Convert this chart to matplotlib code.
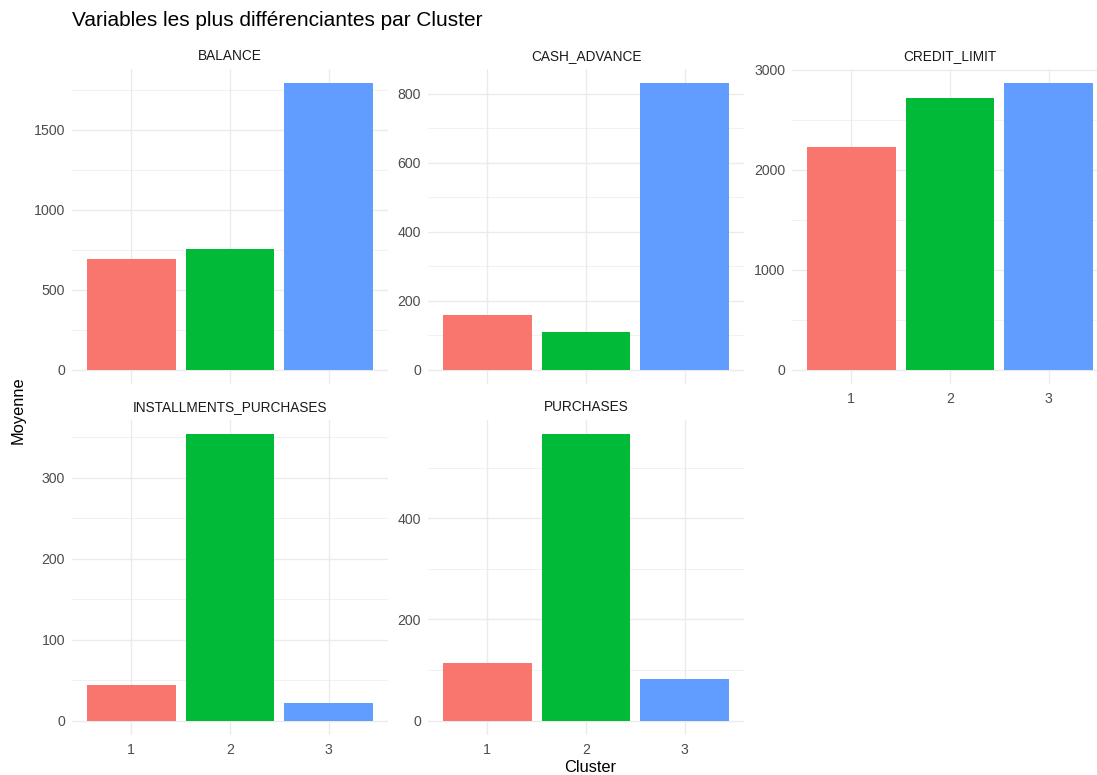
import matplotlib
matplotlib.use("Agg")
import matplotlib.pyplot as plt
from matplotlib.ticker import MultipleLocator
import numpy as np

plt.rcParams['font.family'] = ['Liberation Sans', 'DejaVu Sans']

# ---- data ----
clusters = ["1", "2", "3"]
variables = ["BALANCE", "CASH_ADVANCE", "CREDIT_LIMIT", "INSTALLMENTS_PURCHASES", "PURCHASES"]
balance = [690, 754, 1790]
cash_advance = [159, 110, 830]
credit_limit = [2226, 2723, 2866]
installments_purchases = [44.4, 353.7, 21.8]
purchases = [114.4, 566, 82.2]
values = [balance, cash_advance, credit_limit, installments_purchases, purchases]
tick_steps = [500, 200, 1000, 100, 200]

colors = ["#F8766D", "#00BA38", "#619CFF"]
title = "Variables les plus différenciantes par Cluster"

W, H = 1097, 775
fig = plt.figure(figsize=(W / 100, H / 100), dpi=100)

col_left = [72, 428, 792]
row_top = [69, 420]
pw, ph = 316, 315

grid_c = "#EBEBEB"
for i, (var, vals, step) in enumerate(zip(variables, values, tick_steps)):
    r, c = divmod(i, 3)
    left = col_left[c] / W
    bottom = 1 - (row_top[r] + ph) / H
    ax = fig.add_axes([left, bottom, pw / W, ph / H])
    x = np.arange(1, len(clusters) + 1)
    ax.bar(x, vals, width=0.9, color=colors, zorder=3)
    m = max(vals)
    ax.set_ylim(-0.05 * m, 1.05 * m)
    ax.set_xlim(0.4, 3.6)
    ax.yaxis.set_major_locator(MultipleLocator(step))
    ax.yaxis.set_minor_locator(MultipleLocator(step / 2))
    ax.set_xticks(x)
    show_x = (r == 1) or (c == 2)
    ax.set_xticklabels(clusters if show_x else [])
    ax.grid(which="major", color=grid_c, linewidth=1.0, zorder=0)
    ax.grid(which="minor", axis="y", color=grid_c, linewidth=0.5, zorder=0)
    for s in ax.spines.values():
        s.set_visible(False)
    ax.tick_params(which="both", length=0)
    ax.tick_params(axis="y", labelsize=10.2, labelcolor="#4D4D4D", pad=5)
    ax.tick_params(axis="x", labelsize=10.2, labelcolor="#4D4D4D", pad=6)
    ax.set_title(var, fontsize=9.8, color="#1A1A1A", pad=6.5)

fig.text(72 / W, 1 - 20 / H, title, fontsize=15, ha="left", va="center", color="black")
fig.text(18 / W, 1 - 410 / H, "Moyenne", fontsize=11.8, rotation=90, ha="center", va="center")
fig.text(590 / W, 1 - 767 / H, "Cluster", fontsize=11.8, ha="center", va="center")

fig.savefig("out.png", dpi=100, facecolor="white")
